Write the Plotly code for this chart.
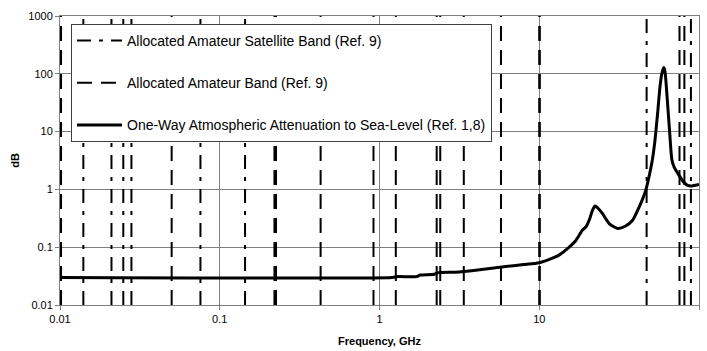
import plotly.graph_objects as go

# ---- data (GHz / dB) ----
sat_band_ghz = [0.014, 0.021, 0.0249, 0.028, 0.0757, 0.144, 47.0, 89.0]
amateur_band_ghz = [0.0101, 0.01015, 0.050, 0.220, 0.225, 0.428, 0.917, 1.265,
                    2.28, 2.40, 3.37, 5.76, 10.0, 10.08, 75.5, 81.0]

atten_freq_ghz = [0.01, 1.2, 1.3, 1.7, 1.8, 2.2, 2.3, 3.0, 4.0, 6.0, 8.0, 10.0,
                  12.0, 13.3, 15.4, 17.0, 18.6, 19.6, 20.7, 21.5, 22.3, 23.2,
                  24.9, 27.4, 31.0, 34.5, 38.3, 42.2, 46.4, 48.0, 51.0, 53.0,
                  55.0, 57.0, 58.5, 60.2, 61.2, 63.4, 65.6, 67.6, 70.0, 75.0,
                  80.0, 85.0, 90.0, 95.0, 100.0]
atten_db = [0.03, 0.03, 0.031, 0.031, 0.033, 0.034, 0.036, 0.037, 0.040, 0.046,
            0.050, 0.054, 0.064, 0.073, 0.10, 0.132, 0.196, 0.224, 0.31, 0.43,
            0.515, 0.48, 0.38, 0.256, 0.21, 0.23, 0.29, 0.495, 0.96, 1.4, 3.2,
            7.0, 20.0, 60.0, 100.0, 128.0, 112.0, 34.0, 9.2, 3.3, 2.4, 1.75,
            1.35, 1.17, 1.15, 1.18, 1.22]

x_tick_vals = [0.01, 0.1, 1, 10, 100]
x_tick_text = ["0.01", "0.1", "1", "10", "100"]
y_tick_vals = [0.01, 0.1, 1, 10, 100, 1000]
y_tick_text = ["0.01", "0.1", "1", "10", "100", "1000"]

Y_MIN, Y_MAX = 0.01, 1000


def vlines(freqs):
    xs, ys = [], []
    for f in freqs:
        xs += [f, f, None]
        ys += [Y_MIN, Y_MAX, None]
    return xs, ys


FONT = "Liberation Sans, Arial, sans-serif"
GRID = "#808080"

fig = go.Figure()

sx, sy = vlines(sat_band_ghz)
fig.add_trace(go.Scatter(
    x=sx, y=sy, mode="lines", connectgaps=False,
    name="Allocated Amateur Satellite Band (Ref. 9)", legendgroup="a",
    line=dict(color="black", width=2, dash="14px,8px,4px,8px"),
    hoverinfo="skip"))

ax, ay = vlines(amateur_band_ghz)
fig.add_trace(go.Scatter(
    x=ax, y=ay, mode="lines", connectgaps=False,
    name="Allocated Amateur Band (Ref. 9)", legendgroup="b",
    line=dict(color="black", width=2, dash="15px,9px"),
    hoverinfo="skip"))

fig.add_trace(go.Scatter(
    x=atten_freq_ghz, y=atten_db, mode="lines",
    name="One-Way Atmospheric Attenuation to Sea-Level (Ref. 1,8)", legendgroup="c",
    line=dict(color="black", width=3, shape="spline", smoothing=0.6)))

axis_common = dict(
    type="log", showgrid=True, gridcolor=GRID, gridwidth=1,
    showline=True, linecolor=GRID, linewidth=1, mirror=True,
    ticks="outside", ticklen=4, tickcolor=GRID, automargin=False,
    tickfont=dict(family=FONT, size=11, color="black"),
)

fig.update_xaxes(range=[-2, 2], tickvals=x_tick_vals, ticktext=x_tick_text,
                 title=dict(text="<b>Frequency, GHz</b>", standoff=13,
                            font=dict(family=FONT, size=11, color="black")),
                 **axis_common)
fig.update_yaxes(range=[-2, 3], tickvals=y_tick_vals, ticktext=y_tick_text,
                 title=dict(text="<b>dB</b>", standoff=6,
                            font=dict(family=FONT, size=11, color="black")),
                 **axis_common)

fig.update_layout(
    width=707, height=351,
    margin=dict(l=60, r=8, t=16, b=46),
    paper_bgcolor="white", plot_bgcolor="white",
    font=dict(family=FONT, size=12, color="black"),
    showlegend=True,
    legend=dict(x=0.0172, y=0.9723, xanchor="left", yanchor="top",
                bgcolor="white", bordercolor="#404040", borderwidth=1,
                font=dict(family=FONT, size=14, color="black"),
                tracegroupgap=21, itemwidth=45, traceorder="grouped"),
)

fig.write_html("out.html")
